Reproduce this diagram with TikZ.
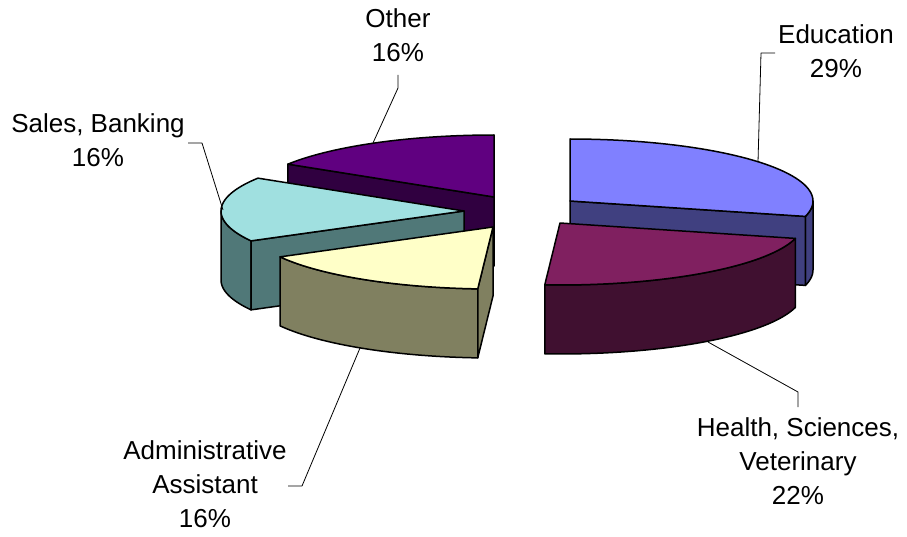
\documentclass[tikz,border=0pt]{standalone}
\usepackage{fontspec}
\setmainfont{Liberation Sans}
\definecolor{edutop}{RGB}{128,128,255}
\definecolor{eduside}{RGB}{64,64,128}
\definecolor{healthtop}{RGB}{128,32,96}
\definecolor{healthside}{RGB}{64,16,48}
\definecolor{admintop}{RGB}{255,255,200}
\definecolor{adminside}{RGB}{128,128,96}
\definecolor{salestop}{RGB}{160,224,224}
\definecolor{salesside}{RGB}{80,120,120}
\definecolor{othertop}{RGB}{96,0,128}
\definecolor{otherside}{RGB}{48,0,64}
\begin{document}
\begin{tikzpicture}[x=1pt,y=-1pt,line join=round,
  slice/.style={draw=black,line width=1.5pt},
  leader/.style={draw=black,line width=0.8pt},
  lbl/.style={align=center,inner sep=0pt,anchor=north,font=\fontsize{26}{34}\selectfont}]
\useasboundingbox (0,0) rectangle (907,537);

% ---------- Other ----------
\coordinate (O) at (494,197);
\coordinate (O1) at ({494+243*sin(302)},{197-62*cos(302)});
\draw[slice,fill=otherside] (O) -- (O1) -- ++(0,69) -- (494,266) -- cycle;
\draw[slice,fill=othertop] (O) -- plot[domain=302:360,samples=40] ({494+243*sin(\x)},{197-62*cos(\x)}) -- cycle;

% ---------- Sales, Banking ----------
\coordinate (S) at (464,211);
\coordinate (S1) at ({464+243*sin(241.2)},{211-62*cos(241.2)});
\draw[slice,fill=salesside] plot[domain=241.2:270,samples=20] ({464+243*sin(\x)},{211-62*cos(\x)})
   -- plot[domain=270:241.2,samples=20] ({464+243*sin(\x)},{280-62*cos(\x)}) -- cycle;
\draw[slice,fill=salesside] (S) -- (S1) -- ++(0,69) -- (464,280) -- cycle;
\draw[slice,fill=salestop] (S) -- plot[domain=241.2:302,samples=40] ({464+243*sin(\x)},{211-62*cos(\x)}) -- cycle;

% ---------- Administrative Assistant ----------
\coordinate (M) at (493,227);
\coordinate (M1) at ({493+243*sin(183.6)},{227-62*cos(183.6)});
\draw[slice,fill=adminside] plot[domain=183.6:241.2,samples=40] ({493+243*sin(\x)},{227-62*cos(\x)})
   -- plot[domain=241.2:183.6,samples=40] ({493+243*sin(\x)},{296-62*cos(\x)}) -- cycle;
\draw[slice,fill=adminside] (M) -- (M1) -- ++(0,69) -- (493,296) -- cycle;
\draw[slice,fill=admintop] (M) -- plot[domain=183.6:241.2,samples=40] ({493+243*sin(\x)},{227-62*cos(\x)}) -- cycle;

% ---------- Education ----------
\coordinate (E) at (570,201);
\coordinate (E1) at ({570+243*sin(104.4)},{201-62*cos(104.4)});
\draw[slice,fill=eduside] plot[domain=90:104.4,samples=10] ({570+243*sin(\x)},{201-62*cos(\x)})
   -- plot[domain=104.4:90,samples=10] ({570+243*sin(\x)},{270-62*cos(\x)}) -- cycle;
\draw[slice,fill=eduside] (E) -- (E1) -- ++(0,69) -- (570,270) -- cycle;
\draw[slice,fill=edutop] (E) -- plot[domain=0:104.4,samples=50] ({570+243*sin(\x)},{201-62*cos(\x)}) -- cycle;

% ---------- Health, Sciences, Veterinary ----------
\coordinate (Hh) at (560,223);
\draw[slice,fill=healthside] plot[domain=104.4:183.6,samples=40] ({560+243*sin(\x)},{223-62*cos(\x)})
   -- plot[domain=183.6:104.4,samples=40] ({560+243*sin(\x)},{292-62*cos(\x)}) -- cycle;
\draw[slice,fill=healthtop] (Hh) -- plot[domain=104.4:183.6,samples=40] ({560+243*sin(\x)},{223-62*cos(\x)}) -- cycle;

% ---------- Labels ----------
\node[lbl] (lother) at (398,3.2) {\strut Other\\\strut 16\%};
\node[lbl] (lsales) at (98,108.7) {\strut Sales, Banking\\\strut 16\%};
\node[lbl] (ledu) at (836,19.4) {\strut Education\\\strut 29\%};
\node[lbl] (lhealth) at (798,412.2) {\strut Health, Sciences,\\\strut Veterinary\\\strut 22\%};
\node[lbl] (ladmin) at (205,435.4) {\strut Administrative\\\strut Assistant\\\strut 16\%};

% ---------- Leader lines ----------
\coordinate (othA) at (398,75);  \coordinate (othB) at (398,88);  \coordinate (othC) at (373,143);
\coordinate (salA) at (188,143); \coordinate (salB) at (202,143); \coordinate (salC) at (223,210);
\coordinate (eduA) at (775,53);  \coordinate (eduB) at (761,53);  \coordinate (eduC) at (758,162);
\coordinate (heaA) at (798,407); \coordinate (heaB) at (798,392); \coordinate (heaC) at (708,342);
\coordinate (admA) at (288,486); \coordinate (admB) at (302,486); \coordinate (admC) at (360,348);
\draw[leader] (othA) -- (othB) -- (othC);
\draw[leader] (salA) -- (salB) -- (salC);
\draw[leader] (eduA) -- (eduB) -- (eduC);
\draw[leader] (heaA) -- (heaB) -- (heaC);
\draw[leader] (admA) -- (admB) -- (admC);
\end{tikzpicture}
\end{document}
